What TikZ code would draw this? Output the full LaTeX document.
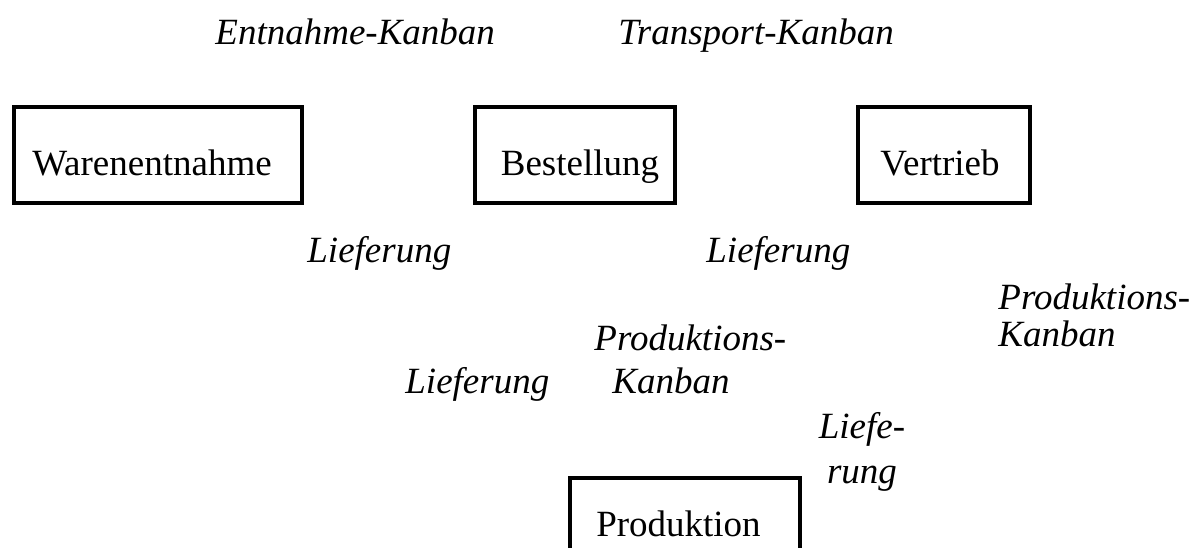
\documentclass[tikz,border=0pt]{standalone}
\usepackage{fontspec}
\setmainfont{Liberation Serif}
\usepackage{tikz}
\usetikzlibrary{positioning}

\begin{document}
\begin{tikzpicture}[x=0.5pt,y=-0.5pt]
  \tikzstyle{box}=[draw,line width=2pt,rectangle,inner xsep=0pt,inner ysep=0pt,
    minimum height=48pt,text height=34pt,text depth=14pt,
    font=\fontsize{18.5}{22}\selectfont]
  \tikzstyle{lbl}=[anchor=base west,inner sep=0pt,font=\fontsize{18.5}{22}\selectfont\itshape]
  \clip (0,0) rectangle (1202,547);

  % Stellen
  \node[box,minimum width=144pt,anchor=north west] (entnahme) at (12,105) {\hspace*{-6pt}Warenentnahme};
  \node[box,minimum width=100pt,anchor=north west] (bestellung) at (473,105) {\hspace*{5pt}Bestellung};
  \node[box,minimum width=86pt,anchor=north west] (vertrieb) at (856,105) {\hspace*{-4pt}Vertrieb};
  \node[box,minimum width=115pt,text height=24pt,anchor=north west] (produktion) at (568,476) {\hspace*{-6.5pt}Produktion};

  % Kanban und Lieferungen
  \node[lbl] (ek) at (215,44) {Entnahme-Kanban};
  \node[lbl] (tk) at (618,44) {Transport-Kanban};
  \node[lbl] (lief1) at (307,262) {Lieferung};
  \node[lbl] (lief2) at (706,262) {Lieferung};
  \node[lbl] (pk1a) at (998,309) {Produktions-};
  \node[lbl] (pk1b) at (998,346) {Kanban};
  \node[lbl] (pk2a) at (594,350) {Produktions-};
  \node[lbl] (pk2b) at (612,393) {Kanban};
  \node[lbl] (lief3) at (405,393) {Lieferung};
  \node[lbl,anchor=base] (lief4a) at (862,438) {Liefe-};
  \node[lbl,anchor=base] (lief4b) at (862,483) {rung};
\end{tikzpicture}
\end{document}
